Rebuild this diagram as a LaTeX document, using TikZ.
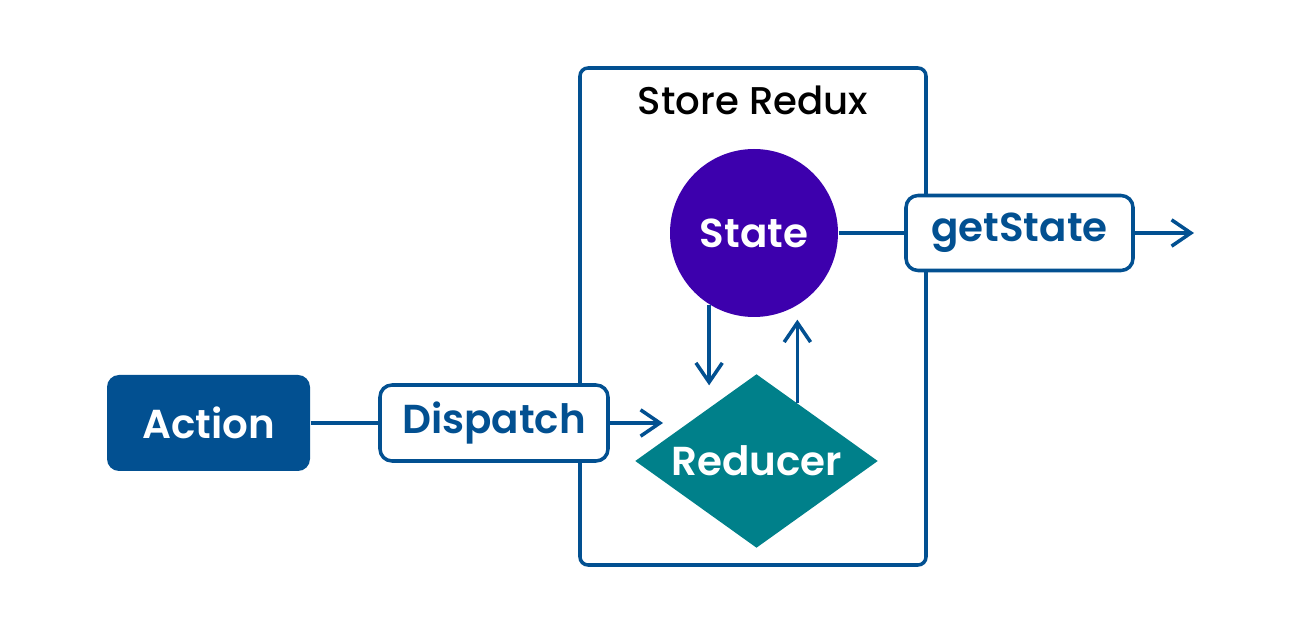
\documentclass[tikz,border=0pt]{standalone}
\usepackage{fontspec}
\setmainfont{Poppins}
\newfontfamily\semibold{Poppins SemiBold}
\newfontfamily\medium{Poppins Medium}
\usepackage{tikz}
\usetikzlibrary{shapes.geometric,arrows.meta,positioning,calc}
\usepackage{xcolor}
\definecolor{reduxblue}{RGB}{2,80,145}
\definecolor{statepurple}{RGB}{61,0,173}
\definecolor{reducerteal}{RGB}{0,128,138}

\tikzset{
  flow/.style={line width=1pt, reduxblue, -{Straight Barb[length=5.5pt,width=7.5pt]}},
  link/.style={line width=1pt, reduxblue},
  whitebox/.style={draw=reduxblue, line width=1pt, fill=white, rounded corners=0.12cm,
    font=\fontsize{11.5}{13}\selectfont\semibold, text=reduxblue, inner sep=0pt},
  bluebox/.style={fill=reduxblue, rounded corners=0.12cm,
    font=\fontsize{11.5}{13}\selectfont\semibold, text=white, inner sep=0pt}
}

\begin{document}
\begin{tikzpicture}
\useasboundingbox (0,0) rectangle (13.01,6.32);

% Store frame
\draw[link, rounded corners=0.08cm] (5.80,5.64) rectangle (9.26,0.67);
\node[font=\fontsize{11}{13}\selectfont\medium] (storetitle) at (7.53,5.32) {Store Redux};

% State and reducer
\node[circle, fill=statepurple, minimum size=1.68cm, inner sep=0pt,
  font=\fontsize{11.5}{13}\selectfont\semibold, text=white] (state) at (7.54,3.99) {State};
\node[diamond, aspect=1.4, fill=reducerteal, minimum width=2.43cm, minimum height=1.74cm, inner sep=0pt,
  font=\fontsize{11.5}{13}\selectfont\semibold, text=white] (reducer) at (7.565,1.71) {Reducer};

% Boxes
\node[whitebox, minimum width=2.27cm, minimum height=0.75cm] (getstate) at (10.195,3.99) {getState};
\node[bluebox, minimum width=2.03cm, minimum height=0.96cm] (action) at (2.085,2.09) {Action};
\node[whitebox, minimum width=2.28cm, minimum height=0.76cm] (dispatch) at (4.94,2.09) {Dispatch};

% Free ends
\coordinate (out) at (11.94,3.99);
\coordinate (redin) at (6.63,2.09);

% Connectors
\draw[link] (state) -- (getstate);
\draw[flow] (getstate) -- (out);
\draw[link] (action) -- (dispatch);
\draw[flow] (dispatch) -- (redin);
\draw[flow] (state.238) -- ++(0,-0.805);
\draw[flow] (reducer.55) -- ++(0,0.83);

\end{tikzpicture}
\end{document}
